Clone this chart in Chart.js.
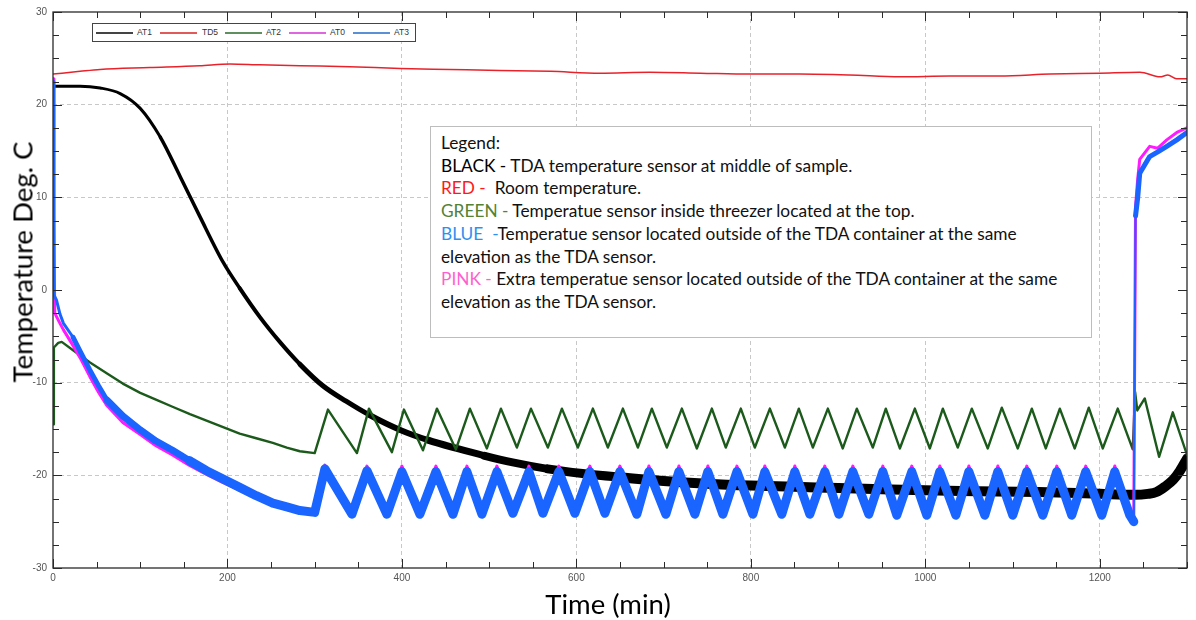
<!DOCTYPE html>
<html>
<head>
<meta charset="utf-8">
<script src="https://cdn.jsdelivr.net/npm/chart.js@4"></script>
<style>
  html, body { margin: 0; padding: 0; background: #fff; }
  #wrap { position: relative; width: 1196px; height: 620px; overflow: hidden; }
  #c { position: absolute; left: 0; top: 0; }
  .ttl { position: absolute; font-family: Lato, "Open Sans", sans-serif; color: #000; white-space: nowrap; }
  #ytitle { left: 22px; top: 262px; font-size: 27.5px; transform: translate(-50%, -50%) rotate(-90deg); }
  #xtitle { left: 608px; top: 603px; font-size: 27.5px; transform: translate(-50%, -50%); }
  #minilegend { position: absolute; left: 92px; top: 23px; width: 322px; height: 17px; border: 1px solid #444; background: #fff; font-family: "Liberation Sans", Arial, sans-serif; font-size: 8.5px; color: #333; }
  #minilegend .ln { position: absolute; top: 8px; height: 1.5px; width: 37px; }
  #minilegend .lb { position: absolute; top: 3px; line-height: 11px; }
  #notes { position: absolute; left: 430px; top: 126px; width: 650px; height: 205px; border: 1px solid #bdbdbd; background: #fff; padding: 5px 0 0 10px; font-family: Lato, "Open Sans", sans-serif; font-size: 17.3px; line-height: 22.7px; color: #111; }
  #notes div { white-space: nowrap; }
</style>
</head>
<body>
<div id="wrap">
  <canvas id="c" width="1196" height="620"></canvas>
  <div id="ytitle" class="ttl">Temperature Deg. C</div>
  <div id="xtitle" class="ttl">Time (min)</div>
  <div id="minilegend">
    <div class="ln" style="left:3px;background:#444"></div><div class="lb" style="left:44px">AT1</div>
    <div class="ln" style="left:67px;background:#e05a5a"></div><div class="lb" style="left:109px">TD5</div>
    <div class="ln" style="left:132px;background:#5f8f5f"></div><div class="lb" style="left:173px">AT2</div>
    <div class="ln" style="left:196px;background:#e066e0"></div><div class="lb" style="left:237px">AT0</div>
    <div class="ln" style="left:260px;background:#5b8fd6"></div><div class="lb" style="left:301px">AT3</div>
  </div>
  <div id="notes">
    <div>Legend:</div>
    <div><span style="color:#000">BLACK - </span>TDA temperature sensor at middle of sample.</div>
    <div><span style="color:#ff1a1a">RED - </span>&nbsp;Room temperature.</div>
    <div><span style="color:#548235">GREEN - </span>Temperatue sensor inside threezer located at the top.</div>
    <div><span style="color:#2e8fef">BLUE &nbsp;-</span>Temperatue sensor located outside of the TDA container at the same</div>
    <div>elevation as the TDA sensor.</div>
    <div><span style="color:#ff5fd0">PINK - </span>Extra temperatue sensor located outside of the TDA container at the same</div>
    <div>elevation as the TDA sensor.</div>
  </div>
</div>
<script>
// ---------------- DATA ----------------
const seriesNames = ['AT1', 'TD5', 'AT2', 'AT0', 'AT3'];

// AT1 - black, TDA sensor at middle of sample
const at1Time = [0, 31, 54, 77, 100, 123, 146, 168, 195, 214, 237, 260, 283, 309, 336, 363, 398, 430, 463, 495, 527, 567, 607, 650, 700, 750, 800, 875, 950, 1040, 1130, 1200, 1240, 1255, 1265, 1275, 1284, 1292, 1300];
const at1Temp = [22.0, 22.0, 21.8, 21.2, 19.6, 16.5, 12.2, 8.0, 3.0, 0.2, -2.9, -5.6, -8.0, -10.3, -12.0, -13.5, -15.1, -16.2, -17.1, -17.9, -18.6, -19.3, -19.8, -20.2, -20.6, -20.9, -21.1, -21.3, -21.5, -21.7, -21.8, -22.0, -22.1, -22.0, -21.8, -21.2, -20.5, -19.5, -18.2];

// TD5 - red, room temperature
const td5Time = [0, 31, 54, 111, 168, 203, 237, 283, 340, 398, 455, 512, 570, 627, 684, 742, 799, 856, 913, 971, 1028, 1085, 1143, 1200, 1246, 1269, 1278, 1288, 1300];
const td5Temp = [23.3, 23.6, 23.8, 24.0, 24.2, 24.4, 24.3, 24.2, 24.1, 23.9, 23.8, 23.7, 23.6, 23.4, 23.5, 23.4, 23.3, 23.3, 23.2, 23.0, 23.1, 23.1, 23.3, 23.4, 23.5, 23.0, 23.2, 22.8, 22.8];

// AT2 - green, sensor inside freezer at the top
const at2Time = [0, 1, 6, 10, 23, 42, 62, 80, 100, 120, 137, 157, 176, 195, 214, 233, 252, 268, 283, 300,
  315.2, 348.4, 362.2, 388.5, 402.3, 424.1, 440.1, 461.9, 477.9, 497.4, 513.5, 531.8, 547.9, 567.3, 583.4, 601.7,
  618.9, 636.1, 653.3, 670.5, 686.5, 703.7, 720.9, 738.1, 755.3, 771.3, 788.5, 804.6, 821.8, 839.0, 855.0, 871.1,
  888.3, 905.4, 921.5, 939.8, 954.7, 970.8, 988.0, 1005.2, 1020.1, 1037.2, 1053.3, 1071.6, 1087.7, 1106.0,
  1122.1, 1138.1, 1154.2, 1171.3, 1187.4, 1203.4, 1220.6, 1237.8,
  1240.5, 1243, 1251.6, 1268, 1283.7, 1300];
const at2Temp = [-14.5, -6.2, -5.7, -5.6, -6.5, -7.8, -9.0, -10.1, -11.1, -11.9, -12.6, -13.4, -14.1, -14.8, -15.5, -16.0, -16.5, -17.0, -17.4, -17.6,
  -12.9, -17.6, -12.8, -17.5, -12.9, -17.3, -12.8, -17.2, -12.8, -17.1, -12.8, -17.0, -12.8, -17.0, -12.8, -17.0,
  -12.8, -17.0, -12.8, -17.0, -12.8, -17.0, -12.8, -17.1, -12.8, -17.0, -12.8, -17.0, -12.8, -17.0, -12.8, -17.0,
  -12.8, -17.1, -12.8, -17.0, -12.8, -17.1, -12.8, -17.1, -12.8, -17.0, -12.8, -17.1, -12.7, -17.1,
  -12.8, -17.1, -12.8, -17.1, -12.7, -17.1, -12.8, -17.2,
  -11.0, -13.0, -11.7, -18.0, -13.2, -17.8];

// AT0 - pink, extra sensor outside TDA container
const at0Time = [0, 1, 2, 8, 12, 23, 31, 42, 52, 62, 80, 100, 118, 137, 156, 176, 195, 214, 233, 252, 268, 283, 300,
  311.7, 342.7, 359.9, 382.8, 400.0, 420.6, 439.0, 458.5, 474.5, 491.7, 508.9, 527.2, 545.6, 561.6, 579.9, 598.3,
  615.5, 632.7, 649.9, 669.3, 683.1, 702.6, 717.5, 735.8, 750.7, 767.9, 784.0, 802.3, 816.0, 835.5, 850.4, 867.6,
  884.8, 900.9, 916.9, 935.2, 951.3, 967.3, 984.5, 1001.7, 1016.6, 1035.0, 1049.9, 1068.2, 1083.1, 1100.3,
  1116.3, 1134.7, 1150.7, 1167.9, 1183.9, 1202.3, 1217.2, 1234.4,
  1239, 1241, 1243.5, 1245.8, 1257.2, 1266.5, 1276.8, 1288.3, 1300];
const at0Temp = [22.8, 8.0, -2.5, -3.6, -4.3, -6.0, -7.3, -9.3, -11.0, -12.5, -14.3, -15.6, -16.8, -17.8, -18.9, -19.9, -20.8, -21.6, -22.4, -23.2, -23.7, -24.0, -24.2,
  -18.9, -24.0, -19.0, -24.0, -19.0, -24.0, -19.0, -24.0, -19.0, -24.0, -19.0, -24.0, -19.0, -24.0, -19.0, -24.0,
  -19.0, -24.0, -19.0, -24.0, -19.0, -24.0, -19.0, -24.0, -19.0, -24.0, -19.0, -24.0, -19.0, -24.0, -19.0, -24.0,
  -19.0, -24.0, -19.0, -24.0, -19.0, -24.0, -19.0, -24.0, -19.0, -24.0, -19.0, -24.0, -19.0, -24.0,
  -19.0, -24.0, -19.0, -24.0, -19.0, -24.0, -19.0, -24.0,
  -24.5, 9.0, 12.0, 14.1, 15.5, 15.3, 16.2, 17.0, 17.5];

// AT3 - blue, sensor outside TDA container
const at3Time = [0, 1, 4, 8, 12, 23, 31, 42, 52, 62, 80, 100, 118, 137, 156, 176, 195, 214, 233, 252, 268, 283, 300,
  311.7, 342.7, 359.9, 382.8, 400.0, 420.6, 439.0, 458.5, 474.5, 491.7, 508.9, 527.2, 545.6, 561.6, 579.9, 598.3,
  615.5, 632.7, 649.9, 669.3, 683.1, 702.6, 717.5, 735.8, 750.7, 767.9, 784.0, 802.3, 816.0, 835.5, 850.4, 867.6,
  884.8, 900.9, 916.9, 935.2, 951.3, 967.3, 984.5, 1001.7, 1016.6, 1035.0, 1049.9, 1068.2, 1083.1, 1100.3,
  1116.3, 1134.7, 1150.7, 1167.9, 1183.9, 1202.3, 1217.2, 1234.4,
  1239, 1241, 1243.5, 1245.8, 1257.2, 1266.5, 1276.8, 1288.3, 1300];
const at3Temp = [22.5, -0.5, -1.1, -2.6, -3.6, -5.1, -6.6, -8.6, -10.3, -11.9, -13.6, -15.1, -16.3, -17.3, -18.4, -19.5, -20.4, -21.3, -22.2, -23.0, -23.4, -23.8, -24.0,
  -19.3, -24.2, -19.5, -24.2, -19.6, -24.2, -19.6, -24.2, -19.6, -24.2, -19.6, -24.1, -19.6, -24.1, -19.6, -24.1,
  -19.6, -24.1, -19.6, -24.2, -19.6, -24.2, -19.6, -24.2, -19.6, -24.2, -19.6, -24.2, -19.6, -24.2, -19.6, -24.2,
  -19.6, -24.2, -19.6, -24.2, -19.6, -24.3, -19.6, -24.3, -19.6, -24.3, -19.6, -24.3, -19.6, -24.3,
  -19.6, -24.3, -19.6, -24.3, -19.6, -24.3, -19.6, -24.3,
  -25.0, 8.0, 10.0, 12.6, 14.4, 14.9, 15.5, 16.2, 17.0];

// axis ticks
const xMin = 0, xMax = 1300, xMinorStep = 50, xMajorStep = 200;
const yMin = -30, yMax = 30, yMinorStep = 2.5, yMajorStep = 10;

// ---------------- CHART ----------------
const zip = (t, v) => t.map((x, i) => ({ x: x, y: v[i] }));

function widthByTime(steps) {
  return ctx => {
    const m = ctx.p0.parsed.x;
    for (const [lim, w] of steps) if (m < lim) return w;
    return steps[steps.length - 1][1];
  };
}

const framePlugin = {
  id: 'frameTicks',
  afterDraw(chart) {
    const { ctx, chartArea: a, scales } = chart;
    const x = scales.x, y = scales.y;
    ctx.save();
    ctx.strokeStyle = '#2a2a2a';
    ctx.lineWidth = 1.3;
    ctx.strokeRect(a.left, a.top, a.right - a.left, a.bottom - a.top);
    ctx.lineWidth = 1;
    ctx.beginPath();
    x.ticks.forEach(t => {
      const px = Math.round(x.getPixelForValue(t.value)) + 0.5;
      const len = (t.value % xMajorStep === 0) ? 9 : 6;
      ctx.moveTo(px, a.bottom); ctx.lineTo(px, a.bottom - len);
      ctx.moveTo(px, a.top); ctx.lineTo(px, a.top + len);
    });
    y.ticks.forEach(t => {
      const py = Math.round(y.getPixelForValue(t.value)) + 0.5;
      const len = (t.value % yMajorStep === 0) ? 9 : 6;
      ctx.moveTo(a.left, py); ctx.lineTo(a.left + len, py);
      ctx.moveTo(a.right, py); ctx.lineTo(a.right - len, py);
    });
    ctx.stroke();
    ctx.restore();
  }
};

const gridColor = step => ctx => {
  if (!ctx.tick) return 'rgba(0,0,0,0)';
  const v = ctx.tick.value;
  return (v % step === 0 && v !== xMin && v !== yMin && v !== yMax) ? '#c8c8c8' : 'rgba(0,0,0,0)';
};

new Chart(document.getElementById('c'), {
  type: 'line',
  data: {
    datasets: [
      { label: seriesNames[0], data: zip(at1Time, at1Temp), borderColor: '#000000', order: 4,
        cubicInterpolationMode: 'monotone', borderJoinStyle: 'round',
        segment: { borderWidth: widthByTime([[120, 3], [200, 3.5], [280, 4], [340, 5], [400, 6], [480, 7], [560, 8], [650, 9], [99999, 10]]) } },
      { label: seriesNames[1], data: zip(td5Time, td5Temp), borderColor: '#e8222b', borderWidth: 1.5, order: 3,
        cubicInterpolationMode: 'monotone' },
      { label: seriesNames[2], data: zip(at2Time, at2Temp), borderColor: '#1c5a1c', borderWidth: 2.4, order: 2,
        tension: 0, borderJoinStyle: 'round' },
      { label: seriesNames[3], data: zip(at0Time, at0Temp), borderColor: '#ff1aff', borderWidth: 3, order: 1,
        tension: 0, borderJoinStyle: 'round' },
      { label: seriesNames[4], data: zip(at3Time, at3Temp), borderColor: '#1a64ff', order: 0,
        tension: 0, borderJoinStyle: 'round',
        segment: { borderWidth: widthByTime([[20, 3], [60, 5], [150, 7], [300, 9], [1238, 9], [1239.5, 2], [99999, 5]]) } }
    ]
  },
  options: {
    responsive: false,
    animation: false,
    parsing: false,
    normalized: true,
    elements: { point: { radius: 0 }, line: { borderCapStyle: 'round' } },
    layout: { padding: { left: 0, top: 12, right: 9, bottom: 0 } },
    plugins: { legend: { display: false }, tooltip: { enabled: false } },
    scales: {
      x: {
        type: 'linear', min: xMin, max: xMax,
        afterFit: s => { s.height = 52; },
        border: { display: false, dash: [4, 3] },
        grid: { color: gridColor(xMajorStep), lineWidth: 1, drawTicks: false },
        ticks: { stepSize: xMinorStep, autoSkip: false, maxRotation: 0, padding: 4,
          color: '#555', font: { family: 'Liberation Sans, Arial', size: 10 },
          callback: v => (v % xMajorStep === 0 ? String(v) : '') }
      },
      y: {
        type: 'linear', min: yMin, max: yMax,
        afterFit: s => { s.width = 53; },
        border: { display: false, dash: [4, 3] },
        grid: { color: gridColor(yMajorStep), lineWidth: 1, drawTicks: false },
        ticks: { stepSize: yMinorStep, autoSkip: false, padding: 6,
          color: '#555', font: { family: 'Liberation Sans, Arial', size: 10 },
          callback: v => (v % yMajorStep === 0 ? String(v) : '') }
      }
    }
  },
  plugins: [framePlugin]
});
</script>
</body>
</html>
